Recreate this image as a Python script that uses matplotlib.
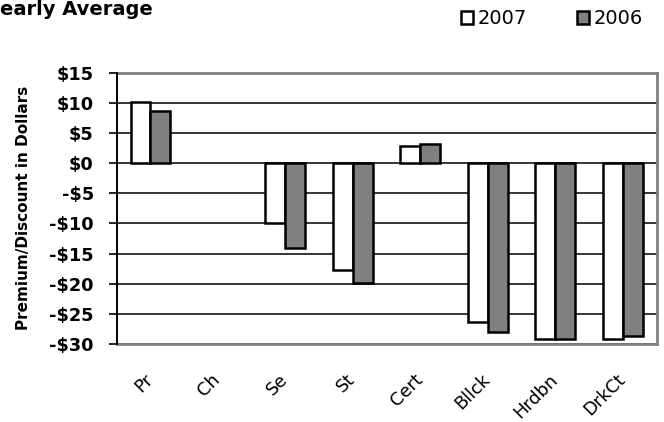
import matplotlib
matplotlib.use("Agg")
import matplotlib.pyplot as plt
import matplotlib.transforms as mtransforms
import numpy as np

categories = ["Pr", "Ch", "Se", "St", "Cert", "Bllck", "Hrdbn", "DrkCt"]
vals_2007 = [10.1, np.nan, -10.0, -17.7, 2.9, -26.4, -29.1, -29.1]
vals_2006 = [8.7, np.nan, -14.0, -19.8, 3.2, -28.0, -29.2, -28.7]
yticks = [15, 10, 5, 0, -5, -10, -15, -20, -25, -30]
ytick_labels = ["$15", "$10", "$5", "$0", "-$5", "-$10", "-$15", "-$20",
                "-$25", "-$30"]

fig = plt.figure(figsize=(6.64, 4.22), dpi=100)
ax = fig.add_axes([0.1758, 0.1848, 0.8132, 0.643])

ind = np.arange(len(categories))
width = 0.296
ax.bar(ind - width / 2, vals_2007, width, color='white', edgecolor='black',
       linewidth=1.8, label='2007', zorder=3)
ax.bar(ind + width / 2, vals_2006, width, color='#808080', edgecolor='black',
       linewidth=1.8, label='2006', zorder=3)

ax.set_xlim(-0.5, len(categories) - 0.5)
ax.set_ylim(-30, 15)
ax.set_yticks(yticks)
ax.set_yticklabels(ytick_labels, fontsize=12.8, fontweight='bold')
ax.yaxis.grid(True, color='black', linewidth=1.1, zorder=1)
ax.tick_params(axis='y', direction='out', length=6, width=1.2, pad=10.5)

ax.set_xticks(ind)
ax.set_xticklabels(categories, rotation=45, ha='right',
                   rotation_mode='anchor', fontsize=12.8)
ax.tick_params(axis='x', length=0, pad=19)
# nudge the rotated labels a little to the left
shift = mtransforms.ScaledTranslation(-5 / 72, 0, fig.dpi_scale_trans)
for lbl in ax.get_xticklabels():
    lbl.set_transform(lbl.get_transform() + shift)

for side in ['top', 'right', 'bottom']:
    ax.spines[side].set_color('#808080')
    ax.spines[side].set_linewidth(2.0)
ax.spines['left'].set_color('black')
ax.spines['left'].set_linewidth(1.4)
ax.spines['left'].set_zorder(4)

ax.set_ylabel('Premium/Discount in Dollars', fontsize=11, fontweight='bold')
ax.yaxis.set_label_coords(-0.158, 0.5)

fig.text(0.0, 1 - 15 / 422, 'early Average', fontsize=14, fontweight='bold',
         va='baseline', ha='left')

leg = fig.legend(loc='center left', bbox_to_anchor=(0.695, 1 - 19 / 422),
                 ncol=2, frameon=False, fontsize=14, handlelength=0.6,
                 handleheight=0.6, handletextpad=0.25, columnspacing=2.55,
                 borderaxespad=0, borderpad=0)

fig.savefig("out.png", dpi=100)
